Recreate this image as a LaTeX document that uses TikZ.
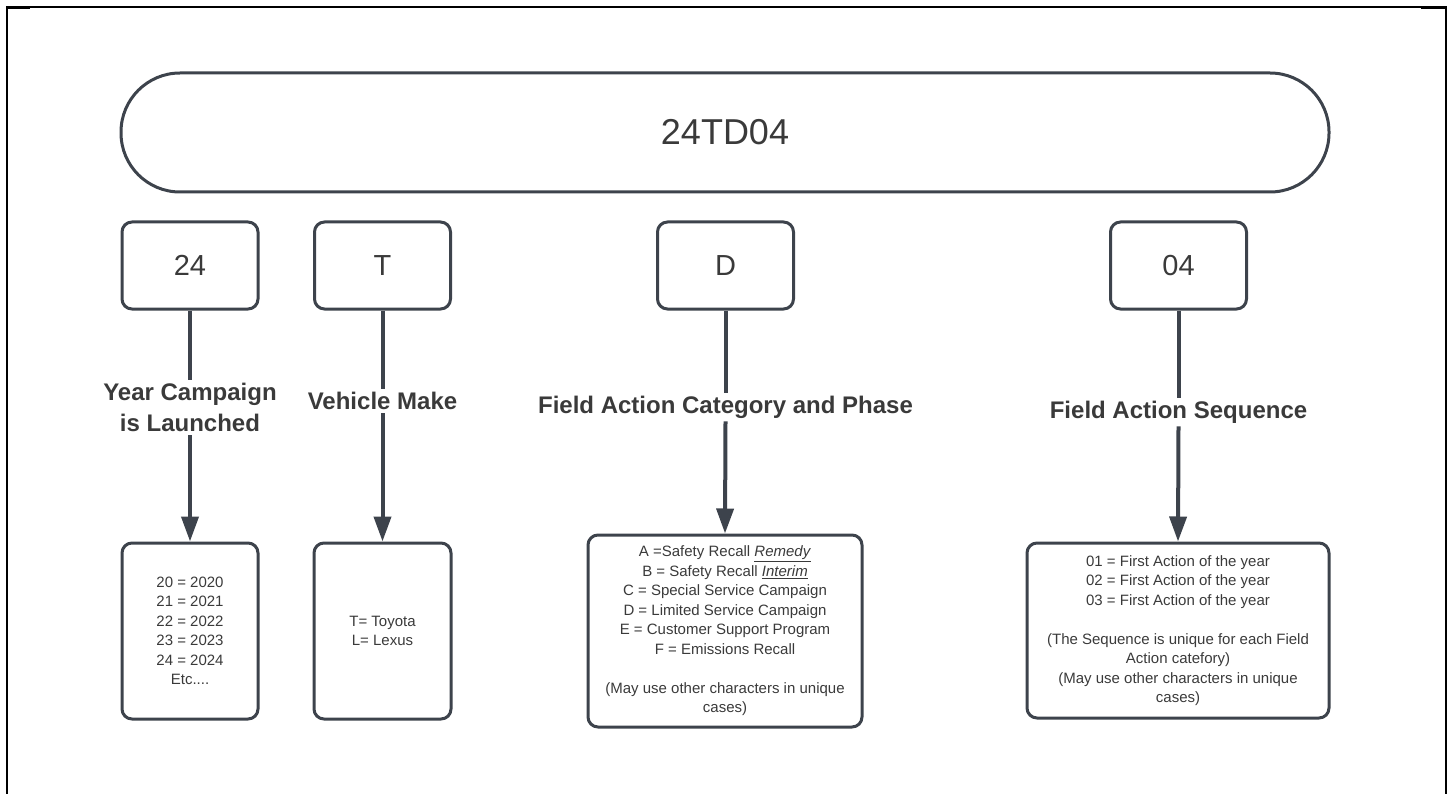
\documentclass[tikz,border=0pt]{standalone}
\usepackage{fontspec}
\setmainfont{Liberation Sans}
\usetikzlibrary{arrows.meta}
\definecolor{lineC}{HTML}{3D434C}
\definecolor{txtC}{HTML}{3A3A3A}
\tikzset{
  box/.style={draw=lineC, line width=3pt, rounded corners=10pt, text=txtC, align=center, inner sep=0pt},
  codebox/.style={box, minimum width=136pt, minimum height=87pt, font=\fontsize{29}{34}\selectfont},
  infobox/.style={box, font=\fontsize{15}{19.5}\selectfont},
  lbl/.style={text=txtC, align=center, inner sep=3pt, font=\fontsize{24}{31}\selectfont\bfseries},
  conn/.style={draw=lineC, line width=4pt},
  arr/.style={conn, -{Triangle[length=25pt, width=17pt]}},
  frame/.style={draw=black, line width=1.6pt}
}
\begin{document}
\begin{tikzpicture}[x=1pt, y=-1pt]
\useasboundingbox (0,0) rectangle (1450,794);
% outer frame
\draw[frame] (7,794) -- (7,7) -- (1446,7) -- (1446,794);
\draw[black, line width=3pt] (6,7.5) -- (30,7.5);
\draw[black, line width=3pt] (1421,8) -- (1447,8);
% title pill
\node[draw=lineC, line width=3pt, rounded corners=59pt, minimum width=1208pt, minimum height=119pt,
      text=txtC, font=\fontsize{36}{40}\selectfont] (title) at (725,132.5) {24TD04};
% code boxes
\node[codebox] (b24) at (190,265.5) {24};
\node[codebox] (bT)  at (382.5,265.5) {T};
\node[codebox] (bD)  at (725.5,265.5) {D};
\node[codebox] (b04) at (1178.5,265.5) {04};
% labels
\node[lbl] (l24) at (190,407.5) {Year Campaign\\is Launched};
\node[lbl] (lT)  at (382.5,401) {Vehicle Make};
\node[lbl] (lD)  at (725.5,407) {Field Action Category and Phase};
\node[lbl] (l04) at (1178.5,412) {Field Action Sequence};
% info boxes
\node[infobox, minimum width=136pt, minimum height=176pt] (v24) at (190,631)
  {20 = 2020\\21 = 2021\\22 = 2022\\23 = 2023\\24 = 2024\\Etc....};
\node[infobox, minimum width=137pt, minimum height=176pt] (vT) at (382.5,631)
  {T= Toyota\\L= Lexus};
\node[infobox, minimum width=274pt, minimum height=192pt] (vD) at (725,631)
  {A =Safety Recall \underline{\textit{Remedy}}\\
   B = Safety Recall \underline{\textit{Interim}}\\
   C = Special Service Campaign\\
   D = Limited Service Campaign\\
   E = Customer Support Program\\
   F = Emissions Recall\\[19.5pt]
   (May use other characters in unique\\cases)};
\node[infobox, minimum width=302pt, minimum height=175pt] (v04) at (1178,630.5)
  {01 = First Action of the year\\
   02 = First Action of the year\\
   03 = First Action of the year\\[19.5pt]
   (The Sequence is unique for each Field\\
   Action catefory)\\
   (May use other characters in unique\\cases)};
% connectors
\draw[conn] (b24.south) -- (l24.north);
\draw[arr]  (l24.south) -- (v24.north);
\draw[conn] (bT.south) -- (lT.north);
\draw[arr]  (lT.south) -- (vT.north);
\draw[conn] (bD.south) -- (lD.north);
\draw[arr]  (lD.south) -- (vD.north);
\draw[conn] (b04.south) -- (l04.north);
\draw[arr]  (l04.south) -- (v04.north);
\end{tikzpicture}
\end{document}
